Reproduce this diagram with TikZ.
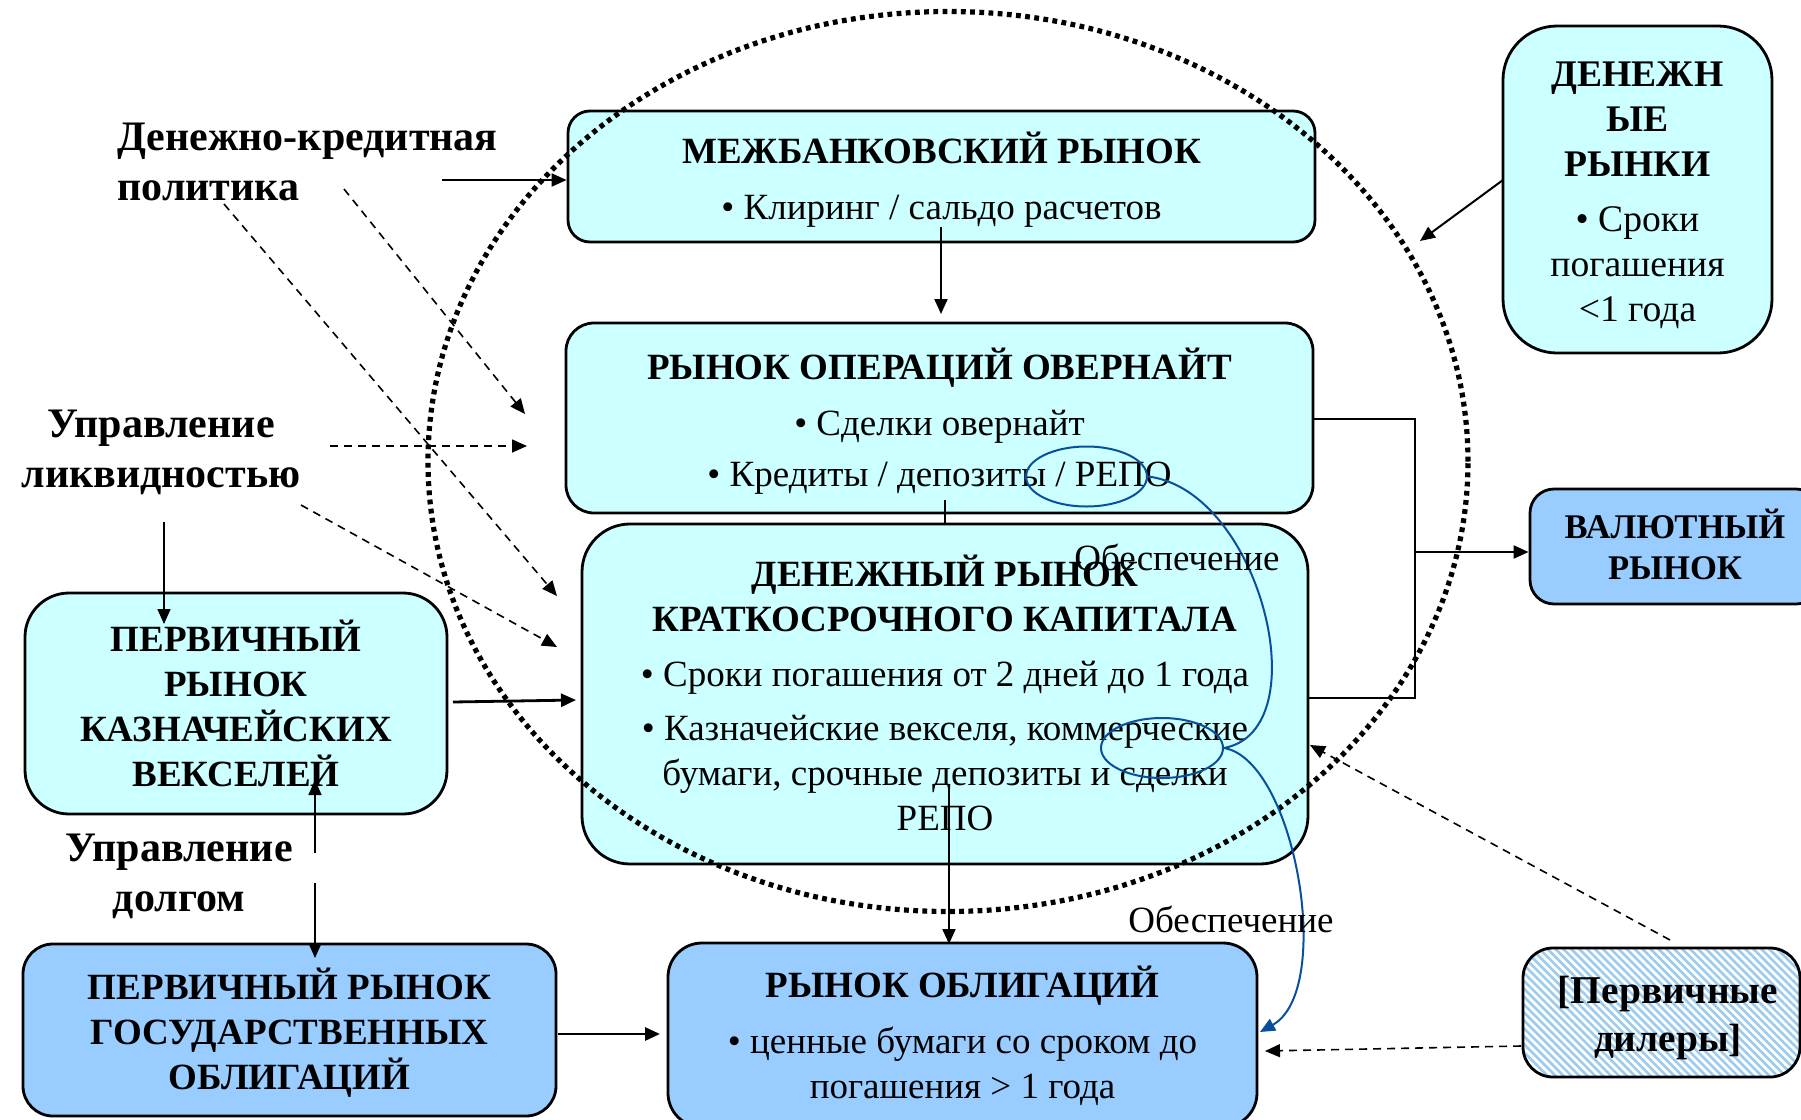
\documentclass[tikz,border=0pt]{standalone}
\usepackage{fontspec}
\setmainfont{Liberation Serif}
\usetikzlibrary{shapes.geometric,arrows.meta,patterns,patterns.meta,calc}
\definecolor{cyanfill}{HTML}{CCFFFF}
\definecolor{bluefill}{HTML}{99CCFF}
\definecolor{curveblue}{HTML}{0A4F9E}
\definecolor{hatchblue}{HTML}{9CCBF0}
\begin{document}
\begin{tikzpicture}[x=0.5pt,y=-0.5pt,
  box/.style={draw=black, line width=1.4pt, inner sep=0pt},
  cbox/.style={box, fill=cyanfill},
  bbox/.style={box, fill=bluefill},
  txt/.style={align=center, inner sep=0pt, font=\fontsize{18.5}{22.5}\selectfont},
  lbl/.style={font=\fontsize{21}{25}\selectfont\bfseries, inner sep=0pt},
  note/.style={font=\fontsize{18.5}{22.5}\selectfont, inner sep=0pt},
  arr/.style={line width=1pt, -{Triangle[length=7.5pt,width=6.5pt]}},
  darr/.style={line width=0.8pt, dash pattern=on 4pt off 3pt, -{Triangle[length=7.5pt,width=6.5pt]}},
  dotcircle/.style={draw=black, line width=2.6pt, dash pattern=on 2.4pt off 2.2pt},
  bluec/.style={draw=curveblue, line width=1pt},
]
\useasboundingbox (0,0) rectangle (1801,1120);
\clip (0,0) rectangle (1801,1120);
\fill[white] (0,0) rectangle (1801,1120);

% boxes
\node[cbox, minimum width=373.5pt, minimum height=65.5pt, rounded corners=11pt] (b1) at (941.5,176.5) {};
\node[txt] (b1t) at ($(b1.center)+(0,3)$)
  {\textbf{МЕЖБАНКОВСКИЙ РЫНОК}\\[5.5pt] • Клиринг / сальдо расчетов};
\node[cbox, minimum width=373.5pt, minimum height=95pt, rounded corners=14pt] (b2) at (939.5,418) {};
\node[txt] (b2t) at ($(b2.center)+(0,3)$)
  {\textbf{РЫНОК ОПЕРАЦИЙ ОВЕРНАЙТ}\\[5.5pt] • Сделки овернайт\\[3pt] • Кредиты / депозиты / РЕПО};
\node[cbox, minimum width=363pt, minimum height=170pt, rounded corners=24pt] (b3) at (945,694) {};
\node[txt] (b3t) at ($(b3.center)+(0,-1)$)
  {\textbf{ДЕНЕЖНЫЙ РЫНОК}\\ \textbf{КРАТКОСРОЧНОГО КАПИТАЛА}\\[5pt] • Сроки погашения от 2 дней до 1 года\\[4.5pt] • Казначейские векселя, коммерческие\\ бумаги, срочные депозиты и сделки\\ РЕПО};
\node[cbox, minimum width=134.5pt, minimum height=163.5pt, rounded corners=27pt] (b4) at (1637.5,189.5) {};
\node[txt, font=\fontsize{18.8}{22.5}\selectfont] (b4t) at ($(b4.center)+(0,6)$)
  {\textbf{ДЕНЕЖН}\\ \textbf{ЫЕ}\\ \textbf{РЫНКИ}\\[5pt] • Сроки\\ погашения\\ <1 года};
\node[bbox, minimum width=145pt, minimum height=57.5pt, rounded corners=12pt] (b5) at (1675,546.5) {};
\node[txt, font=\fontsize{17.3}{20.7}\selectfont\bfseries] (b5t) at ($(b5.center)+(0,-2)$)
  {ВАЛЮТНЫЙ\\ РЫНОК};
\node[cbox, minimum width=211pt, minimum height=110.5pt, rounded corners=22pt] (b6) at (236,703.5) {};
\node[txt, font=\fontsize{18.5}{22.5}\selectfont\bfseries] (b6t) at (b6.center)
  {ПЕРВИЧНЫЙ\\ РЫНОК\\ КАЗНАЧЕЙСКИХ\\ ВЕКСЕЛЕЙ};
\node[bbox, minimum width=266.5pt, minimum height=86pt, rounded corners=15pt] (b7) at (289.5,1030) {};
\node[txt, font=\fontsize{18.5}{22.5}\selectfont\bfseries] (b7t) at ($(b7.center)+(0,3)$)
  {ПЕРВИЧНЫЙ РЫНОК\\ ГОСУДАРСТВЕННЫХ\\ ОБЛИГАЦИЙ};
\node[bbox, minimum width=294.5pt, minimum height=92pt, rounded corners=17pt] (b8) at (962.5,1035) {};
\node[txt] (b8t) at ($(b8.center)+(0,1)$)
  {\textbf{РЫНОК ОБЛИГАЦИЙ}\\[5.5pt] • ценные бумаги со сроком до\\ погашения > 1 года};
\node[box, preaction={fill=white}, pattern={Lines[angle=-45,distance=2.8pt,line width=1.3pt]}, pattern color=hatchblue,
  minimum width=138.5pt, minimum height=64.5pt, rounded corners=15pt] (b9) at (1661.5,1012.5) {};
\node[txt, font=\fontsize{19.7}{24}\selectfont\bfseries] (b9t) at (1668,1018) {[Первичные\\ дилеры]};

% side labels
\node[lbl, anchor=west, align=left] (dkp) at (117,162) {Денежно-кредитная\\ политика};
\node[lbl, align=center] (uliq) at (161,452) {Управление\\ ликвидностью};
\node[lbl, align=center] (udolg) at (179,876) {Управление\\ долгом};

% dotted zone
\node[dotcircle, ellipse, minimum width=520pt, minimum height=450pt, inner sep=0pt] (zone) at (948,461.5) {};

% coordinates for free ends
\coordinate (a1) at (442,180);
\coordinate (d1s) at (344,189);  \coordinate (d1e) at (525,414);
\coordinate (d2s) at (224,204);  \coordinate (d2e) at (557,596);
\coordinate (d3s) at (330,446);  \coordinate (d3e) at (527,446);
\coordinate (d4s) at (301,505);  \coordinate (d4e) at (557,647);
\coordinate (f1s) at (164,522);  \coordinate (f1e) at (164,624);
\coordinate (h1s) at (315,853);  \coordinate (h1e) at (315,780);
\coordinate (h2s) at (315,883);  \coordinate (h2e) at (315,958);
\coordinate (g1s) at (453,702);  \coordinate (g1e) at (576,700);
\coordinate (i1s) at (558,1034); \coordinate (i1e) at (660,1034);
\coordinate (j1s) at (941,227);  \coordinate (j1e) at (941,314);
\coordinate (k1s) at (945,500);
\coordinate (l1s) at (949,785);  \coordinate (l1e) at (949,944);
\coordinate (jn) at (1415,698);
\coordinate (v1s) at (1415,552);
\coordinate (n1s) at (1503,180); \coordinate (n1e) at (1420,241);
\coordinate (o1s) at (1670,940); \coordinate (o1e) at (1310,745);
\coordinate (p1s) at (1521,1046); \coordinate (p1e) at (1265,1051);

% solid connectors
\draw[arr] (a1) -- (a1 -| b1.west);
\draw[arr] (j1s) -- (j1e);
\draw[line width=1pt] (k1s) -- (k1s |- b3.north);
\draw[arr] (l1s) -- (l1e);
\draw[arr, line width=1.4pt] (g1s) -- (g1e);
\draw[arr, line width=1.4pt] (i1s) -- (i1e);
\draw[arr, line width=0.8pt] (f1s) -- (f1e);
\draw[arr, line width=0.8pt] (h1s) -- (h1e);
\draw[arr, line width=0.8pt] (h2s) -- (h2e);
\draw[line width=1pt] (b2.east |- 0,419) -| (jn) -- (jn -| b3.east);
\draw[arr] (v1s) -- (v1s -| b5.west);
\draw[arr] (n1s) -- (n1e);

% dashed connectors
\draw[darr] (d1s) -- (d1e);
\draw[darr] (d2s) -- (d2e);
\draw[darr] (d3s) -- (d3e);
\draw[darr] (d4s) -- (d4e);
\draw[darr] (o1s) -- (o1e);
\draw[darr] (p1s) -- (p1e);

% blue collateral marks
\node[ellipse, bluec, minimum width=60.5pt, minimum height=30pt, inner sep=0pt] (e1) at (1086.5,476.5) {};
\node[ellipse, bluec, minimum width=61pt, minimum height=30pt, inner sep=0pt] (e2) at (1162,748) {};
\draw[bluec] (e1.east) .. controls (1260,490) and (1320,730) .. (e2.east);
\draw[bluec, -{Triangle[length=7.5pt,width=6.5pt]}] (e2.east) .. controls (1295,760) and (1335,990) .. (1260,1032);

\node[note] (ob1) at (1177,557) {Обеспечение};
\node[note] (ob2) at (1231,919) {Обеспечение};
\end{tikzpicture}
\end{document}
